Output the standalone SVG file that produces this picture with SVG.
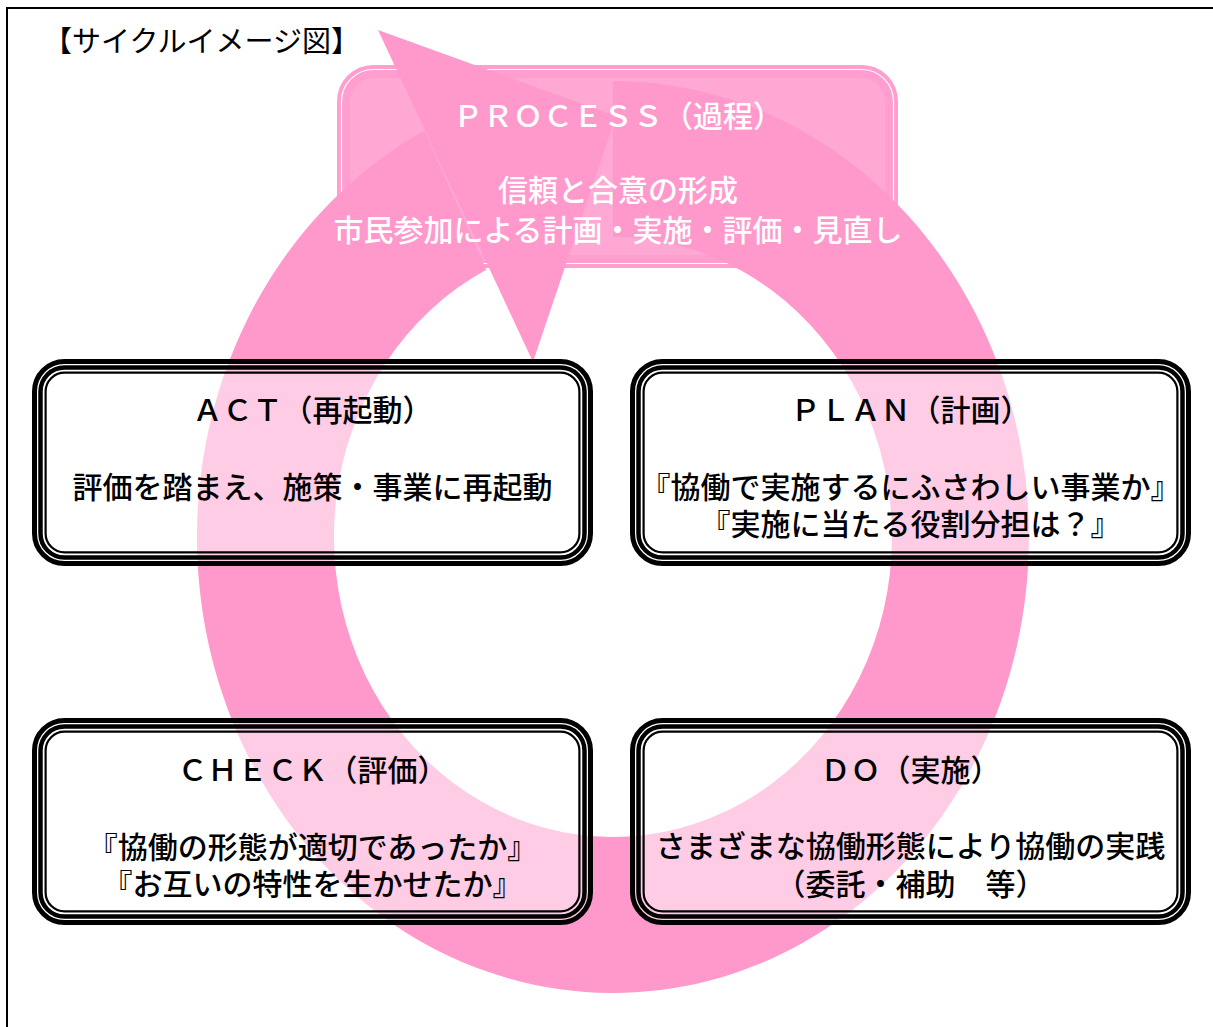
<svg xmlns="http://www.w3.org/2000/svg" width="1213" height="1027" viewBox="0 0 1213 1027">
<style>
  text { font-family: "Noto Sans CJK JP", "Noto Sans", sans-serif; font-size: 30px; font-weight: 500; text-anchor: middle; }
  .dark { fill: #000000; }
  .light { fill: #ffffff; }
  .b1 { fill: #ffffff; fill-opacity: 0.5; stroke: #000000; stroke-width: 5; }
  .b2 { fill: none; stroke: #000000; stroke-width: 4.5; }
  .b3 { fill: none; stroke: #000000; stroke-width: 2.2; }
  .ring { fill: #ff99cc; }
</style>
<rect x="0" y="0" width="1213" height="1027" fill="#ffffff"/>
<rect x="7" y="8" width="1230" height="1040" fill="none" stroke="#000000" stroke-width="2"/>
<text x="43" y="52" class="dark" style="font-size:29px;font-weight:400;text-anchor:start">【サイクルイメージ図】</text>

<g id="process">
  <rect x="337" y="65" width="561" height="203" rx="36" fill="#ff9ecf"/>
  <rect x="341.5" y="69.5" width="552" height="194" rx="32" fill="none" stroke="#ffffff" stroke-width="1.2"/>
  <rect x="350" y="78" width="535" height="177" rx="24" fill="#ffa8d4"/>
</g>

<g id="connectors">
  <path class="ring" d="M 613,81 A 416 456 0 1 1 424.1,130.7 L 486.3,269.7 A 279 300 0 1 0 613,237 Z"/>
  <polygon class="ring" points="378,30 616,116 533,362"/>
</g>

<g id="process-text">
  <text x="618" y="127.4" class="light">ＰＲＯＣＥＳＳ（過程）</text>
  <text x="618" y="201.4" class="light">信頼と合意の形成</text>
  <text x="618" y="241" class="light">市民参加による計画・実施・評価・見直し</text>
</g>

<g id="act">
  <rect class="b1" x="34.5" y="361.5" width="556" height="202" rx="30"/>
  <rect class="b2" x="40.5" y="367.5" width="544" height="190" rx="24"/>
  <rect class="b3" x="45.6" y="372.6" width="533.8" height="179.8" rx="19"/>
  <text x="312.5" y="421.4" class="dark">ＡＣＴ（再起動）</text>
  <text x="312.5" y="498.4" class="dark">評価を踏まえ、施策・事業に再起動</text>
</g>

<g id="plan">
  <rect class="b1" x="632.5" y="361.5" width="556" height="202" rx="30"/>
  <rect class="b2" x="638.5" y="367.5" width="544" height="190" rx="24"/>
  <rect class="b3" x="643.6" y="372.6" width="533.8" height="179.8" rx="19"/>
  <text x="910.5" y="421.4" class="dark">ＰＬＡＮ（計画）</text>
  <text x="910.5" y="498.4" class="dark">『協働で実施するにふさわしい事業か』</text>
  <text x="910.5" y="535" class="dark">『実施に当たる役割分担は？』</text>
</g>

<g id="check">
  <rect class="b1" x="34.5" y="720.5" width="556" height="202" rx="30"/>
  <rect class="b2" x="40.5" y="726.5" width="544" height="190" rx="24"/>
  <rect class="b3" x="45.6" y="731.6" width="533.8" height="179.8" rx="19"/>
  <text x="312.5" y="781.4" class="dark">ＣＨＥＣＫ（評価）</text>
  <text x="312.5" y="858.4" class="dark">『協働の形態が適切であったか』</text>
  <text x="312.5" y="895" class="dark">『お互いの特性を生かせたか』</text>
</g>

<g id="do">
  <rect class="b1" x="632.5" y="720.5" width="556" height="202" rx="30"/>
  <rect class="b2" x="638.5" y="726.5" width="544" height="190" rx="24"/>
  <rect class="b3" x="643.6" y="731.6" width="533.8" height="179.8" rx="19"/>
  <text x="910.5" y="781.4" class="dark">ＤＯ（実施）</text>
  <text x="910.5" y="857.4" class="dark">さまざまな協働形態により協働の実践</text>
  <text x="910.5" y="895" class="dark">（委託・補助　等）</text>
</g>
</svg>
